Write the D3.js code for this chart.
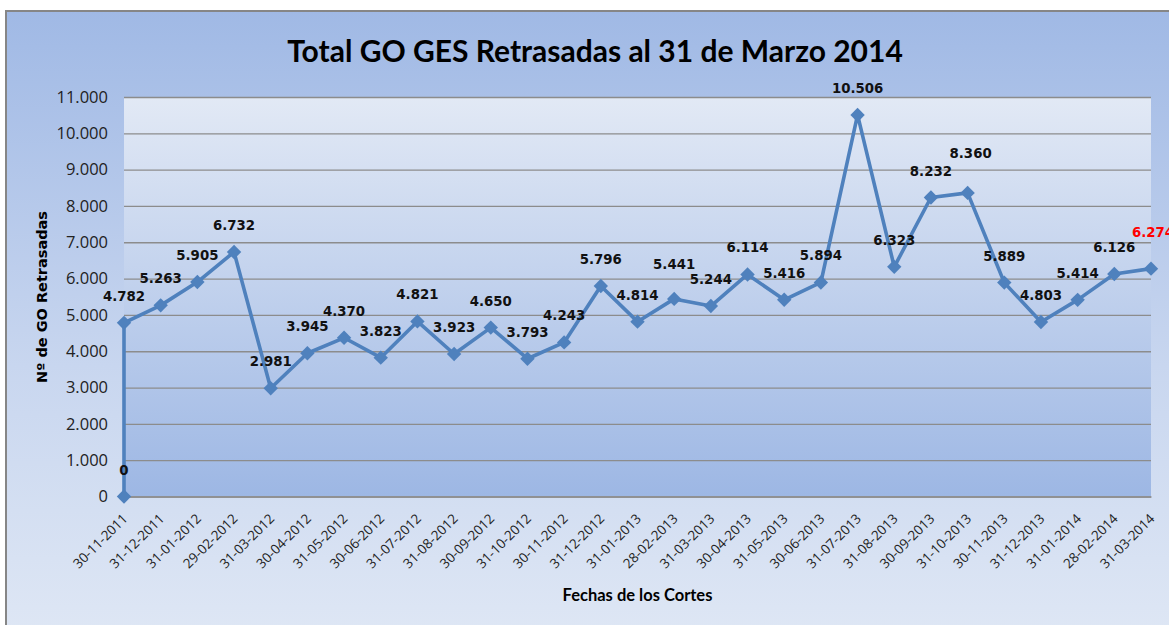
<!DOCTYPE html>
<html>
<head>
<meta charset="utf-8">
<script src="https://cdn.jsdelivr.net/npm/d3@7"></script>
<style>
  body { margin: 0; background: #fff; }
  svg { display: block; }
</style>
</head>
<body>
<div id="chart"></div>
<script>
// categories (fechas de corte)
var fechas = ["30-11-2011", "31-12-2011", "31-01-2012", "29-02-2012", "31-03-2012", "30-04-2012",
    "31-05-2012", "30-06-2012", "31-07-2012", "31-08-2012", "30-09-2012", "31-10-2012",
    "30-11-2012", "31-12-2012", "31-01-2013", "28-02-2013", "31-03-2013", "30-04-2013",
    "31-05-2013", "30-06-2013", "31-07-2013", "31-08-2013", "30-09-2013", "31-10-2013",
    "30-11-2013", "31-12-2013", "31-01-2014", "28-02-2014", "31-03-2014"];

// GO retrasadas por corte
var retrasadas = [4782, 5263, 5905, 6732, 2981, 3945, 4370, 3823, 4821, 3923, 4650, 3793,
    4243, 5796, 4814, 5441, 5244, 6114, 5416, 5894, 10506, 6323, 8232, 8360,
    5889, 4803, 5414, 6126, 6274];

// the line starts from a zero point on the first cut
var valorInicial = 0;

var yTicks = [0, 1000, 2000, 3000, 4000, 5000, 6000, 7000, 8000, 9000, 10000, 11000];

var titulo = "Total GO GES Retrasadas al 31 de Marzo 2014";
var tituloY = "Nº de GO Retrasadas";
var tituloX = "Fechas de los Cortes";

// labels that were moved by hand in the original
var labelNudge = { 15: [0, -8], 23: [3, -13], 28: [2, -10] };

var W = 1169, H = 625;
var plot = { left: 124, right: 1151, top: 97, bottom: 496.5 };

var es = d3.formatLocale({ decimal: ",", thousands: ".", grouping: [3], currency: ["", "€"] });
var fmt = es.format(",d");

var svg = d3.select("#chart").append("svg")
    .attr("width", W)
    .attr("height", H);

var defs = svg.append("defs");
var bgGrad = defs.append("linearGradient").attr("id", "bgGrad")
    .attr("x1", 0).attr("y1", 0).attr("x2", 0).attr("y2", 1);
bgGrad.append("stop").attr("offset", "0%").attr("stop-color", "#a0b9e5");
bgGrad.append("stop").attr("offset", "55%").attr("stop-color", "#c8d6ef");
bgGrad.append("stop").attr("offset", "100%").attr("stop-color", "#e0e8f5");

var plotGrad = defs.append("linearGradient").attr("id", "plotGrad")
    .attr("x1", 0).attr("y1", 0).attr("x2", 0).attr("y2", 1);
plotGrad.append("stop").attr("offset", "0%").attr("stop-color", "#e2e9f5");
plotGrad.append("stop").attr("offset", "100%").attr("stop-color", "#9db7e4");

// chart area
svg.append("rect")
    .attr("x", 6).attr("y", 11)
    .attr("width", W + 20).attr("height", H + 20)
    .attr("fill", "url(#bgGrad)")
    .attr("stroke", "#868686")
    .attr("stroke-width", 2);

// scales
var x = d3.scalePoint()
    .domain(fechas)
    .range([plot.left, plot.right]);

var y = d3.scaleLinear()
    .domain([0, 11000])
    .range([plot.bottom, plot.top]);

// plot area
svg.append("rect")
    .attr("x", plot.left).attr("y", plot.top)
    .attr("width", plot.right - plot.left)
    .attr("height", plot.bottom - plot.top)
    .attr("fill", "url(#plotGrad)");

// gridlines
svg.append("g")
    .attr("transform", "translate(" + plot.left + ",0)")
    .call(d3.axisLeft(y).tickValues(yTicks).tickSize(-(plot.right - plot.left)).tickFormat(""))
    .call(g => g.select(".domain").remove())
    .call(g => g.selectAll("line").attr("stroke", "#8c8c8c").attr("stroke-width", 1.3));

// Y axis labels
svg.append("g")
    .attr("transform", "translate(" + plot.left + ",0)")
    .call(d3.axisLeft(y).tickValues(yTicks).tickSize(0).tickPadding(16).tickFormat(fmt))
    .call(g => g.select(".domain").remove())
    .call(g => g.selectAll("text")
        .attr("fill", "#222")
        .style("font-family", "'Open Sans', sans-serif")
        .style("font-size", "16.5px"));

// X axis
var xAxis = svg.append("g")
    .attr("transform", "translate(0," + plot.bottom + ")")
    .call(d3.axisBottom(x).tickSize(0))
    .call(g => g.select(".domain").attr("stroke", "#8c8c8c").attr("stroke-width", 1.3));

xAxis.selectAll("text")
    .attr("fill", "#222")
    .attr("y", 0).attr("dy", 0)
    .style("text-anchor", "end")
    .style("font-family", "'Open Sans', sans-serif")
    .style("font-size", "13.5px")
    .attr("transform", "translate(4,23) rotate(-45)");

// series: zero start then the monthly values
var puntos = [{ fecha: fechas[0], valor: valorInicial, idx: -1 }]
    .concat(retrasadas.map((v, i) => ({ fecha: fechas[i], valor: v, idx: i })));

var line = d3.line()
    .x(d => x(d.fecha))
    .y(d => y(d.valor));

svg.append("path")
    .datum(puntos)
    .attr("d", line)
    .attr("fill", "none")
    .attr("stroke", "#4f81bd")
    .attr("stroke-width", 3.6)
    .attr("stroke-linejoin", "round");

svg.selectAll(".marker")
    .data(puntos)
    .enter()
    .append("path")
    .attr("class", "marker")
    .attr("d", "M0,-7.2L7.2,0L0,7.2L-7.2,0Z")
    .attr("transform", d => "translate(" + x(d.fecha) + "," + y(d.valor) + ")")
    .attr("fill", "#4f81bd");

svg.selectAll(".dlabel")
    .data(puntos)
    .enter()
    .append("text")
    .attr("class", "dlabel")
    .attr("x", d => x(d.fecha) + (labelNudge[d.idx] ? labelNudge[d.idx][0] : 0))
    .attr("y", d => y(d.valor) - 22 + (labelNudge[d.idx] ? labelNudge[d.idx][1] : 0))
    .attr("text-anchor", "middle")
    .attr("fill", d => d.idx === retrasadas.length - 1 ? "#ff0000" : "#111")
    .style("font-family", "'DejaVu Sans Condensed', 'DejaVu Sans', sans-serif")
    .style("font-stretch", "condensed")
    .style("font-weight", "bold")
    .style("font-size", "14.8px")
    .text(d => fmt(d.valor));

// titles
svg.append("text")
    .attr("x", 595).attr("y", 61.5)
    .attr("text-anchor", "middle")
    .attr("fill", "#000")
    .style("font-family", "Lato, sans-serif")
    .style("font-weight", "bold")
    .style("font-size", "30px")
    .text(titulo);

svg.append("text")
    .attr("transform", "translate(46.5,297) rotate(-90)")
    .attr("text-anchor", "middle")
    .attr("fill", "#000")
    .style("font-family", "'DejaVu Sans', sans-serif")
    .style("font-weight", "bold")
    .style("font-size", "14.5px")
    .text(tituloY);

svg.append("text")
    .attr("x", (plot.left + plot.right) / 2).attr("y", 600.5)
    .attr("text-anchor", "middle")
    .attr("fill", "#000")
    .style("font-family", "Lato, sans-serif")
    .style("font-weight", "bold")
    .style("font-size", "16.5px")
    .text(tituloX);
</script>
</body>
</html>
